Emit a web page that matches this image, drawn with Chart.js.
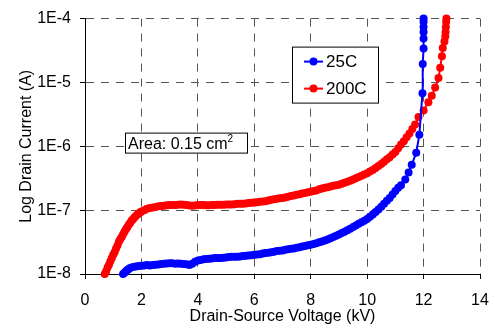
<!DOCTYPE html>
<html>
<head>
<meta charset="utf-8">
<script src="https://cdn.jsdelivr.net/npm/chart.js@4.4.0/dist/chart.umd.min.js"></script>
<style>
    body { margin: 0; background: #fff; }
</style>
</head>
<body>
<canvas id="chart" width="495" height="331"></canvas>
<script>
// readings taken off the plot: voltage in kV, drain current in A
const VOLTAGE_25C = [
    1.35, 1.40, 1.45, 1.50, 1.55, 1.60, 1.70, 1.80, 1.90, 2.00,
    2.10, 2.20, 2.30, 2.40, 2.50, 2.60, 2.70, 2.80, 2.90, 3.00,
    3.10, 3.20, 3.30, 3.40, 3.50, 3.60, 3.70, 3.80, 3.90, 4.00,
    4.10, 4.20, 4.30, 4.40, 4.50, 4.60, 4.70, 4.80, 4.90, 5.00,
    5.10, 5.20, 5.30, 5.40, 5.50, 5.60, 5.70, 5.80, 5.90, 6.00,
    6.10, 6.20, 6.30, 6.40, 6.50, 6.60, 6.70, 6.80, 6.90, 7.00,
    7.10, 7.20, 7.30, 7.40, 7.50, 7.60, 7.70, 7.80, 7.90, 8.00,
    8.10, 8.20, 8.30, 8.40, 8.50, 8.60, 8.70, 8.80, 8.90, 9.00,
    9.10, 9.20, 9.30, 9.40, 9.50, 9.60, 9.70, 9.80, 9.90, 10.00,
    10.10, 10.20, 10.30, 10.40, 10.50, 10.60, 10.70, 10.80, 10.90, 11.00,
    11.10, 11.20, 11.35, 11.47, 11.58, 11.74, 11.85, 11.96, 11.97, 12.00,
    12.00, 12.00, 12.00, 12.00, 12.00
];
const CURRENT_25C = [
    1.0e-8, 1.05e-8, 1.10e-8, 1.15e-8, 1.20e-8, 1.24e-8, 1.29e-8, 1.31e-8, 1.33e-8, 1.35e-8,
    1.36e-8, 1.38e-8, 1.36e-8, 1.38e-8, 1.40e-8, 1.41e-8, 1.43e-8, 1.45e-8, 1.46e-8, 1.48e-8,
    1.47e-8, 1.45e-8, 1.46e-8, 1.45e-8, 1.44e-8, 1.42e-8, 1.38e-8, 1.45e-8, 1.55e-8, 1.62e-8,
    1.66e-8, 1.70e-8, 1.72e-8, 1.74e-8, 1.75e-8, 1.78e-8, 1.78e-8, 1.78e-8, 1.80e-8, 1.82e-8,
    1.84e-8, 1.86e-8, 1.86e-8, 1.86e-8, 1.88e-8, 1.91e-8, 1.93e-8, 1.95e-8, 1.97e-8, 2.00e-8,
    2.02e-8, 2.04e-8, 2.09e-8, 2.14e-8, 2.16e-8, 2.19e-8, 2.24e-8, 2.29e-8, 2.31e-8, 2.34e-8,
    2.40e-8, 2.45e-8, 2.48e-8, 2.51e-8, 2.57e-8, 2.63e-8, 2.69e-8, 2.75e-8, 2.81e-8, 2.88e-8,
    2.95e-8, 3.02e-8, 3.13e-8, 3.24e-8, 3.35e-8, 3.47e-8, 3.63e-8, 3.80e-8, 3.98e-8, 4.17e-8,
    4.37e-8, 4.57e-8, 4.84e-8, 5.13e-8, 5.43e-8, 5.75e-8, 6.10e-8, 6.46e-8, 6.84e-8, 7.24e-8,
    7.85e-8, 8.51e-8, 9.33e-8, 1.02e-7, 1.13e-7, 1.26e-7, 1.40e-7, 1.55e-7, 1.76e-7, 2.00e-7,
    2.24e-7, 2.45e-7, 3.02e-7, 3.89e-7, 5.13e-7, 7.94e-7, 1.51e-6, 6.76e-6, 1.95e-5, 3.39e-5,
    4.90e-5, 6.17e-5, 7.41e-5, 8.91e-5, 1.0e-4
];

const VOLTAGE_200C = [
    0.70, 0.75, 0.80, 0.85, 0.90, 0.95, 1.00, 1.05, 1.10, 1.15,
    1.20, 1.25, 1.30, 1.35, 1.40, 1.45, 1.50, 1.55, 1.60, 1.65,
    1.70, 1.75, 1.80, 1.85, 1.90, 1.95, 2.00, 2.10, 2.20, 2.30,
    2.40, 2.50, 2.60, 2.70, 2.80, 2.90, 3.00, 3.10, 3.20, 3.30,
    3.40, 3.50, 3.60, 3.70, 3.80, 3.90, 4.00, 4.10, 4.20, 4.30,
    4.40, 4.50, 4.60, 4.70, 4.80, 4.90, 5.00, 5.10, 5.20, 5.30,
    5.40, 5.50, 5.60, 5.70, 5.80, 5.90, 6.00, 6.10, 6.20, 6.30,
    6.40, 6.50, 6.60, 6.70, 6.80, 6.90, 7.00, 7.10, 7.20, 7.30,
    7.40, 7.50, 7.60, 7.70, 7.80, 7.90, 8.00, 8.10, 8.20, 8.30,
    8.40, 8.50, 8.60, 8.70, 8.80, 8.90, 9.00, 9.10, 9.20, 9.30,
    9.40, 9.50, 9.60, 9.70, 9.80, 9.90, 10.00, 10.10, 10.20, 10.30,
    10.40, 10.50, 10.60, 10.70, 10.80, 10.90, 11.00, 11.10, 11.20, 11.30,
    11.40, 11.50, 11.60, 11.70, 11.82, 12.00, 12.17, 12.29, 12.41, 12.53,
    12.59, 12.65, 12.68, 12.74, 12.77, 12.78, 12.79, 12.80, 12.81
];
const CURRENT_200C = [
    1.0e-8, 1.1e-8, 1.26e-8, 1.4e-8, 1.58e-8, 1.78e-8, 2.0e-8, 2.2e-8, 2.5e-8, 2.8e-8,
    3.2e-8, 3.5e-8, 3.8e-8, 4.2e-8, 4.6e-8, 5.0e-8, 5.4e-8, 5.9e-8, 6.3e-8, 6.8e-8,
    7.2e-8, 7.7e-8, 8.1e-8, 8.5e-8, 8.9e-8, 9.2e-8, 9.5e-8, 1.0e-7, 1.05e-7, 1.08e-7,
    1.10e-7, 1.12e-7, 1.15e-7, 1.16e-7, 1.17e-7, 1.19e-7, 1.20e-7, 1.20e-7, 1.20e-7, 1.22e-7,
    1.23e-7, 1.21e-7, 1.20e-7, 1.18e-7, 1.17e-7, 1.18e-7, 1.20e-7, 1.20e-7, 1.20e-7, 1.19e-7,
    1.19e-7, 1.20e-7, 1.20e-7, 1.21e-7, 1.22e-7, 1.22e-7, 1.23e-7, 1.23e-7, 1.23e-7, 1.24e-7,
    1.26e-7, 1.26e-7, 1.26e-7, 1.27e-7, 1.29e-7, 1.30e-7, 1.32e-7, 1.33e-7, 1.35e-7, 1.36e-7,
    1.38e-7, 1.41e-7, 1.45e-7, 1.48e-7, 1.51e-7, 1.53e-7, 1.55e-7, 1.58e-7, 1.62e-7, 1.66e-7,
    1.70e-7, 1.74e-7, 1.78e-7, 1.82e-7, 1.86e-7, 1.90e-7, 1.95e-7, 2.00e-7, 2.04e-7, 2.12e-7,
    2.19e-7, 2.24e-7, 2.29e-7, 2.34e-7, 2.40e-7, 2.45e-7, 2.51e-7, 2.60e-7, 2.69e-7, 2.78e-7,
    2.88e-7, 3.02e-7, 3.16e-7, 3.31e-7, 3.47e-7, 3.63e-7, 3.80e-7, 4.03e-7, 4.27e-7, 4.57e-7,
    4.90e-7, 5.30e-7, 5.75e-7, 6.25e-7, 6.76e-7, 7.41e-7, 8.13e-7, 9.33e-7, 1.07e-6, 1.20e-6,
    1.38e-6, 1.58e-6, 1.86e-6, 2.19e-6, 2.88e-6, 3.63e-6, 4.90e-6, 6.17e-6, 8.32e-6, 1.17e-5,
    1.70e-5, 2.57e-5, 3.47e-5, 4.37e-5, 5.25e-5, 6.17e-5, 7.41e-5, 8.91e-5, 1.0e-4
];

const Y_TICKS = [1e-8, 1e-7, 1e-6, 1e-5, 1e-4];
const Y_TICK_LABELS = ["1E-8", "1E-7", "1E-6", "1E-5", "1E-4"];

const FONT = "'Liberation Sans', Arial, sans-serif";

function points(xs, ys) {
    return xs.map((x, i) => ({ x: x, y: ys[i] }));
}

// legend box drawn inside the plot, like the original
const insideLegend = {
    id: "insideLegend",
    afterDraw(chart) {
        const ctx = chart.ctx;
        const area = chart.chartArea;
        const x0 = area.left + 207, y0 = area.top + 28;
        ctx.save();
        ctx.fillStyle = "#fff";
        ctx.fillRect(x0, y0, 86, 56);
        ctx.strokeStyle = "#000";
        ctx.lineWidth = 1;
        ctx.strokeRect(x0 + 0.5, y0 + 0.5, 86, 56);
        ctx.font = "17px " + FONT;
        ctx.textBaseline = "middle";
        chart.data.datasets.forEach((ds, i) => {
            const y = y0 + 15 + i * 27;
            ctx.strokeStyle = ds.borderColor;
            ctx.lineWidth = 2;
            ctx.beginPath();
            ctx.moveTo(x0 + 12, y);
            ctx.lineTo(x0 + 31, y);
            ctx.stroke();
            ctx.fillStyle = ds.backgroundColor;
            ctx.beginPath();
            ctx.arc(x0 + 21.5, y, 4, 0, Math.PI * 2);
            ctx.fill();
            ctx.fillStyle = "#000";
            ctx.fillText(ds.label, x0 + 34, y + 1);
        });
        ctx.restore();
    }
};

// "Area: 0.15 cm2" note
const areaNote = {
    id: "areaNote",
    afterDraw(chart) {
        const ctx = chart.ctx;
        const area = chart.chartArea;
        const x0 = area.left + 40, y0 = area.top + 114;
        ctx.save();
        ctx.fillStyle = "#fff";
        ctx.fillRect(x0, y0, 122, 20);
        ctx.strokeStyle = "#000";
        ctx.lineWidth = 1;
        ctx.strokeRect(x0 + 0.5, y0 + 0.5, 122, 20);
        ctx.fillStyle = "#000";
        ctx.textBaseline = "alphabetic";
        ctx.font = "16px " + FONT;
        const txt = "Area: 0.15 cm";
        ctx.fillText(txt, x0 + 3, y0 + 16);
        const w = ctx.measureText(txt).width;
        ctx.font = "10px " + FONT;
        ctx.fillText("2", x0 + 3 + w, y0 + 9);
        ctx.restore();
    }
};

const gridStyle = {
    color: "#555",
    tickBorderDash: [],
    tickColor: "#000",
    tickLength: 5
};

new Chart(document.getElementById("chart"), {
    type: "scatter",
    data: {
        datasets: [
            {
                label: "25C",
                data: points(VOLTAGE_25C, CURRENT_25C),
                borderColor: "#0000ff",
                backgroundColor: "#0000ff",
                showLine: true,
                borderWidth: 2,
                pointRadius: 4,
                pointBorderWidth: 0,
                clip: false
            },
            {
                label: "200C",
                data: points(VOLTAGE_200C, CURRENT_200C),
                borderColor: "#ff0000",
                backgroundColor: "#ff0000",
                showLine: true,
                borderWidth: 2,
                pointRadius: 4,
                pointBorderWidth: 0,
                clip: false
            }
        ]
    },
    options: {
        responsive: false,
        animation: false,
        layout: { padding: { left: 0, right: 15, top: 15, bottom: 0 } },
        plugins: {
            legend: { display: false },
            tooltip: { enabled: false }
        },
        scales: {
            x: {
                type: "linear",
                min: 0,
                max: 14,
                ticks: {
                    stepSize: 2,
                    color: "#000",
                    font: { family: FONT, size: 16 },
                    padding: 12
                },
                grid: gridStyle,
                border: { display: true, color: "#000", width: 1, dash: [8, 7] },
                title: {
                    display: true,
                    text: "Drain-Source Voltage (kV)",
                    color: "#000",
                    font: { family: FONT, size: 16 },
                    padding: { top: 0, bottom: 5 }
                },
                afterFit(scale) {
                    scale.height = 57;
                    scale.paddingLeft = 0;
                    scale.paddingRight = 0;
                }
            },
            y: {
                type: "logarithmic",
                min: 1e-8,
                max: 1e-4,
                afterBuildTicks(scale) {
                    scale.ticks = Y_TICKS.map(v => ({ value: v }));
                },
                ticks: {
                    color: "#000",
                    font: { family: FONT, size: 16 },
                    padding: 9,
                    callback: (v) => Y_TICK_LABELS[Y_TICKS.indexOf(v)] || ""
                },
                grid: gridStyle,
                border: { display: true, color: "#000", width: 1, dash: [8, 7] },
                title: {
                    display: true,
                    text: "Log Drain Current (A)",
                    color: "#000",
                    font: { family: FONT, size: 16 },
                    padding: { top: 17, bottom: 0 }
                },
                afterFit(scale) { scale.width = 85; }
            }
        }
    },
    plugins: [insideLegend, areaNote]
});
</script>
</body>
</html>
